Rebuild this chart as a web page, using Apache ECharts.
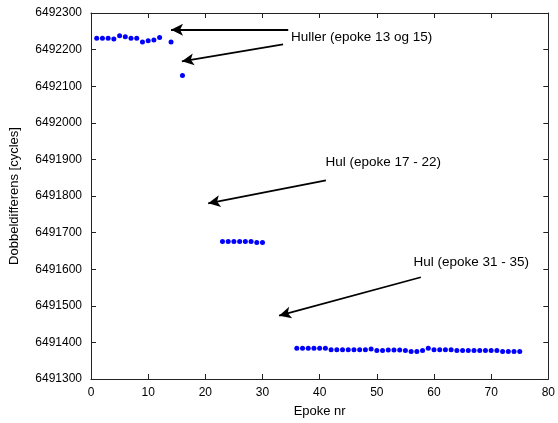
<!DOCTYPE html>
<html>
<head>
<meta charset="utf-8">
<script src="https://cdn.jsdelivr.net/npm/echarts@6/dist/echarts.min.js"></script>
<style>
  html, body { margin: 0; padding: 0; background: #fff; }
  #chart { width: 558px; height: 423px; }
</style>
</head>
<body>
<div id="chart"></div>
<script>
// Epoch numbers and double-difference values (cycles)
const epochs = [1, 2, 3, 4, 5, 6, 7, 8, 9, 10, 11, 12, 14, 16,
  23, 24, 25, 26, 27, 28, 29, 30,
  36, 37, 38, 39, 40, 41, 42, 43, 44, 45, 46, 47, 48, 49, 50, 51, 52, 53, 54, 55,
  56, 57, 58, 59, 60, 61, 62, 63, 64, 65, 66, 67, 68, 69, 70, 71, 72, 73, 74, 75];
const values = [6492231, 6492231, 6492231, 6492229, 6492238, 6492235, 6492231, 6492231, 6492221, 6492224, 6492226, 6492233, 6492221, 6492129,
  6491676, 6491676, 6491676, 6491676, 6491676, 6491676, 6491673, 6491673,
  6491384, 6491384, 6491384, 6491384, 6491384, 6491384, 6491380, 6491380, 6491380, 6491380, 6491380, 6491380, 6491380, 6491382, 6491378, 6491378, 6491379, 6491379, 6491379, 6491378,
  6491375, 6491375, 6491378, 6491384, 6491380, 6491380, 6491380, 6491380, 6491378, 6491378, 6491378, 6491378, 6491378, 6491378, 6491378, 6491378, 6491375, 6491375, 6491375, 6491375];

// Annotation texts with their anchor (epoch, value)
const noteTexts = ['Huller (epoke 13 og 15)', 'Hul (epoke 17 - 22)', 'Hul (epoke 31 - 35)'];
const noteX = [35.0, 41.0, 56.4];
const noteY = [6492235, 6491891, 6491620];

// Arrows: start -> tip, in data coordinates
const arrowFrom = [[34.5, 6492254], [33.6, 6492214], [41.1, 6491843], [57.7, 6491578]];
const arrowTo   = [[14.0, 6492254], [15.9, 6492168], [20.5, 6491780], [32.9, 6491473]];

const points = epochs.map((e, i) => [e, values[i]]);
const notes = noteTexts.map((t, i) => ({ value: [noteX[i], noteY[i]], name: t }));
const arrows = arrowFrom.map((f, i) => [{ coord: f }, { coord: arrowTo[i] }]);

const font = 'Liberation Sans, Arial, sans-serif';
const axisColor = '#222';

const chart = echarts.init(document.getElementById('chart'), null, { renderer: 'canvas' });
chart.setOption({
  animation: false,
  backgroundColor: '#fff',
  grid: { left: 90, right: 6, top: 13, bottom: 41, containLabel: false },
  xAxis: [{
    type: 'value', min: 0, max: 80, interval: 10,
    name: 'Epoke nr', nameLocation: 'middle', nameGap: 26,
    nameTextStyle: { fontFamily: font, fontSize: 13, color: '#000' },
    axisLine: { onZero: false, lineStyle: { color: axisColor, width: 1 } },
    axisTick: { inside: true, length: 5, lineStyle: { color: axisColor } },
    axisLabel: { fontFamily: font, fontSize: 12, color: '#000', margin: 8 },
    splitLine: { show: false }
  }, {
    type: 'value', min: 0, max: 80, interval: 10, position: 'top',
    axisLine: { onZero: false, lineStyle: { color: axisColor, width: 1 } },
    axisTick: { inside: true, length: 5, lineStyle: { color: axisColor } },
    axisLabel: { show: false }, splitLine: { show: false }
  }],
  yAxis: [{
    type: 'value', min: 6491300, max: 6492300, interval: 100,
    name: 'Dobbeldifferens [cycles]', nameLocation: 'middle', nameGap: 70,
    nameTextStyle: { fontFamily: font, fontSize: 13, color: '#000' },
    axisLine: { show: true, onZero: false, lineStyle: { color: axisColor, width: 1 } },
    axisTick: { show: true, inside: true, length: 5, lineStyle: { color: axisColor } },
    axisLabel: { fontFamily: font, fontSize: 12, color: '#000', margin: 9, formatter: v => String(v) },
    splitLine: { show: false }
  }, {
    type: 'value', min: 6491300, max: 6492300, interval: 100, position: 'right',
    axisLine: { show: true, onZero: false, lineStyle: { color: axisColor, width: 1 } },
    axisTick: { show: true, inside: true, length: 5, lineStyle: { color: axisColor } },
    axisLabel: { show: false }, splitLine: { show: false }
  }],
  series: [{
    type: 'scatter',
    data: points,
    symbol: 'circle',
    symbolSize: 5,
    itemStyle: { color: '#0000ff', opacity: 1 }
  }, {
    type: 'scatter',
    data: notes,
    symbolSize: 0,
    silent: true,
    itemStyle: { opacity: 1 },
    label: {
      show: true, position: 'right', distance: 0,
      formatter: p => p.name,
      fontFamily: font, fontSize: 13.5, color: '#000', opacity: 1
    },
    markLine: {
      silent: true,
      symbol: ['none', 'arrow'],
      symbolSize: [9, 12],
      label: { show: false },
      lineStyle: { color: '#000', width: 1.8, type: 'solid', opacity: 1 },
      data: arrows
    }
  }]
});
</script>
</body>
</html>
